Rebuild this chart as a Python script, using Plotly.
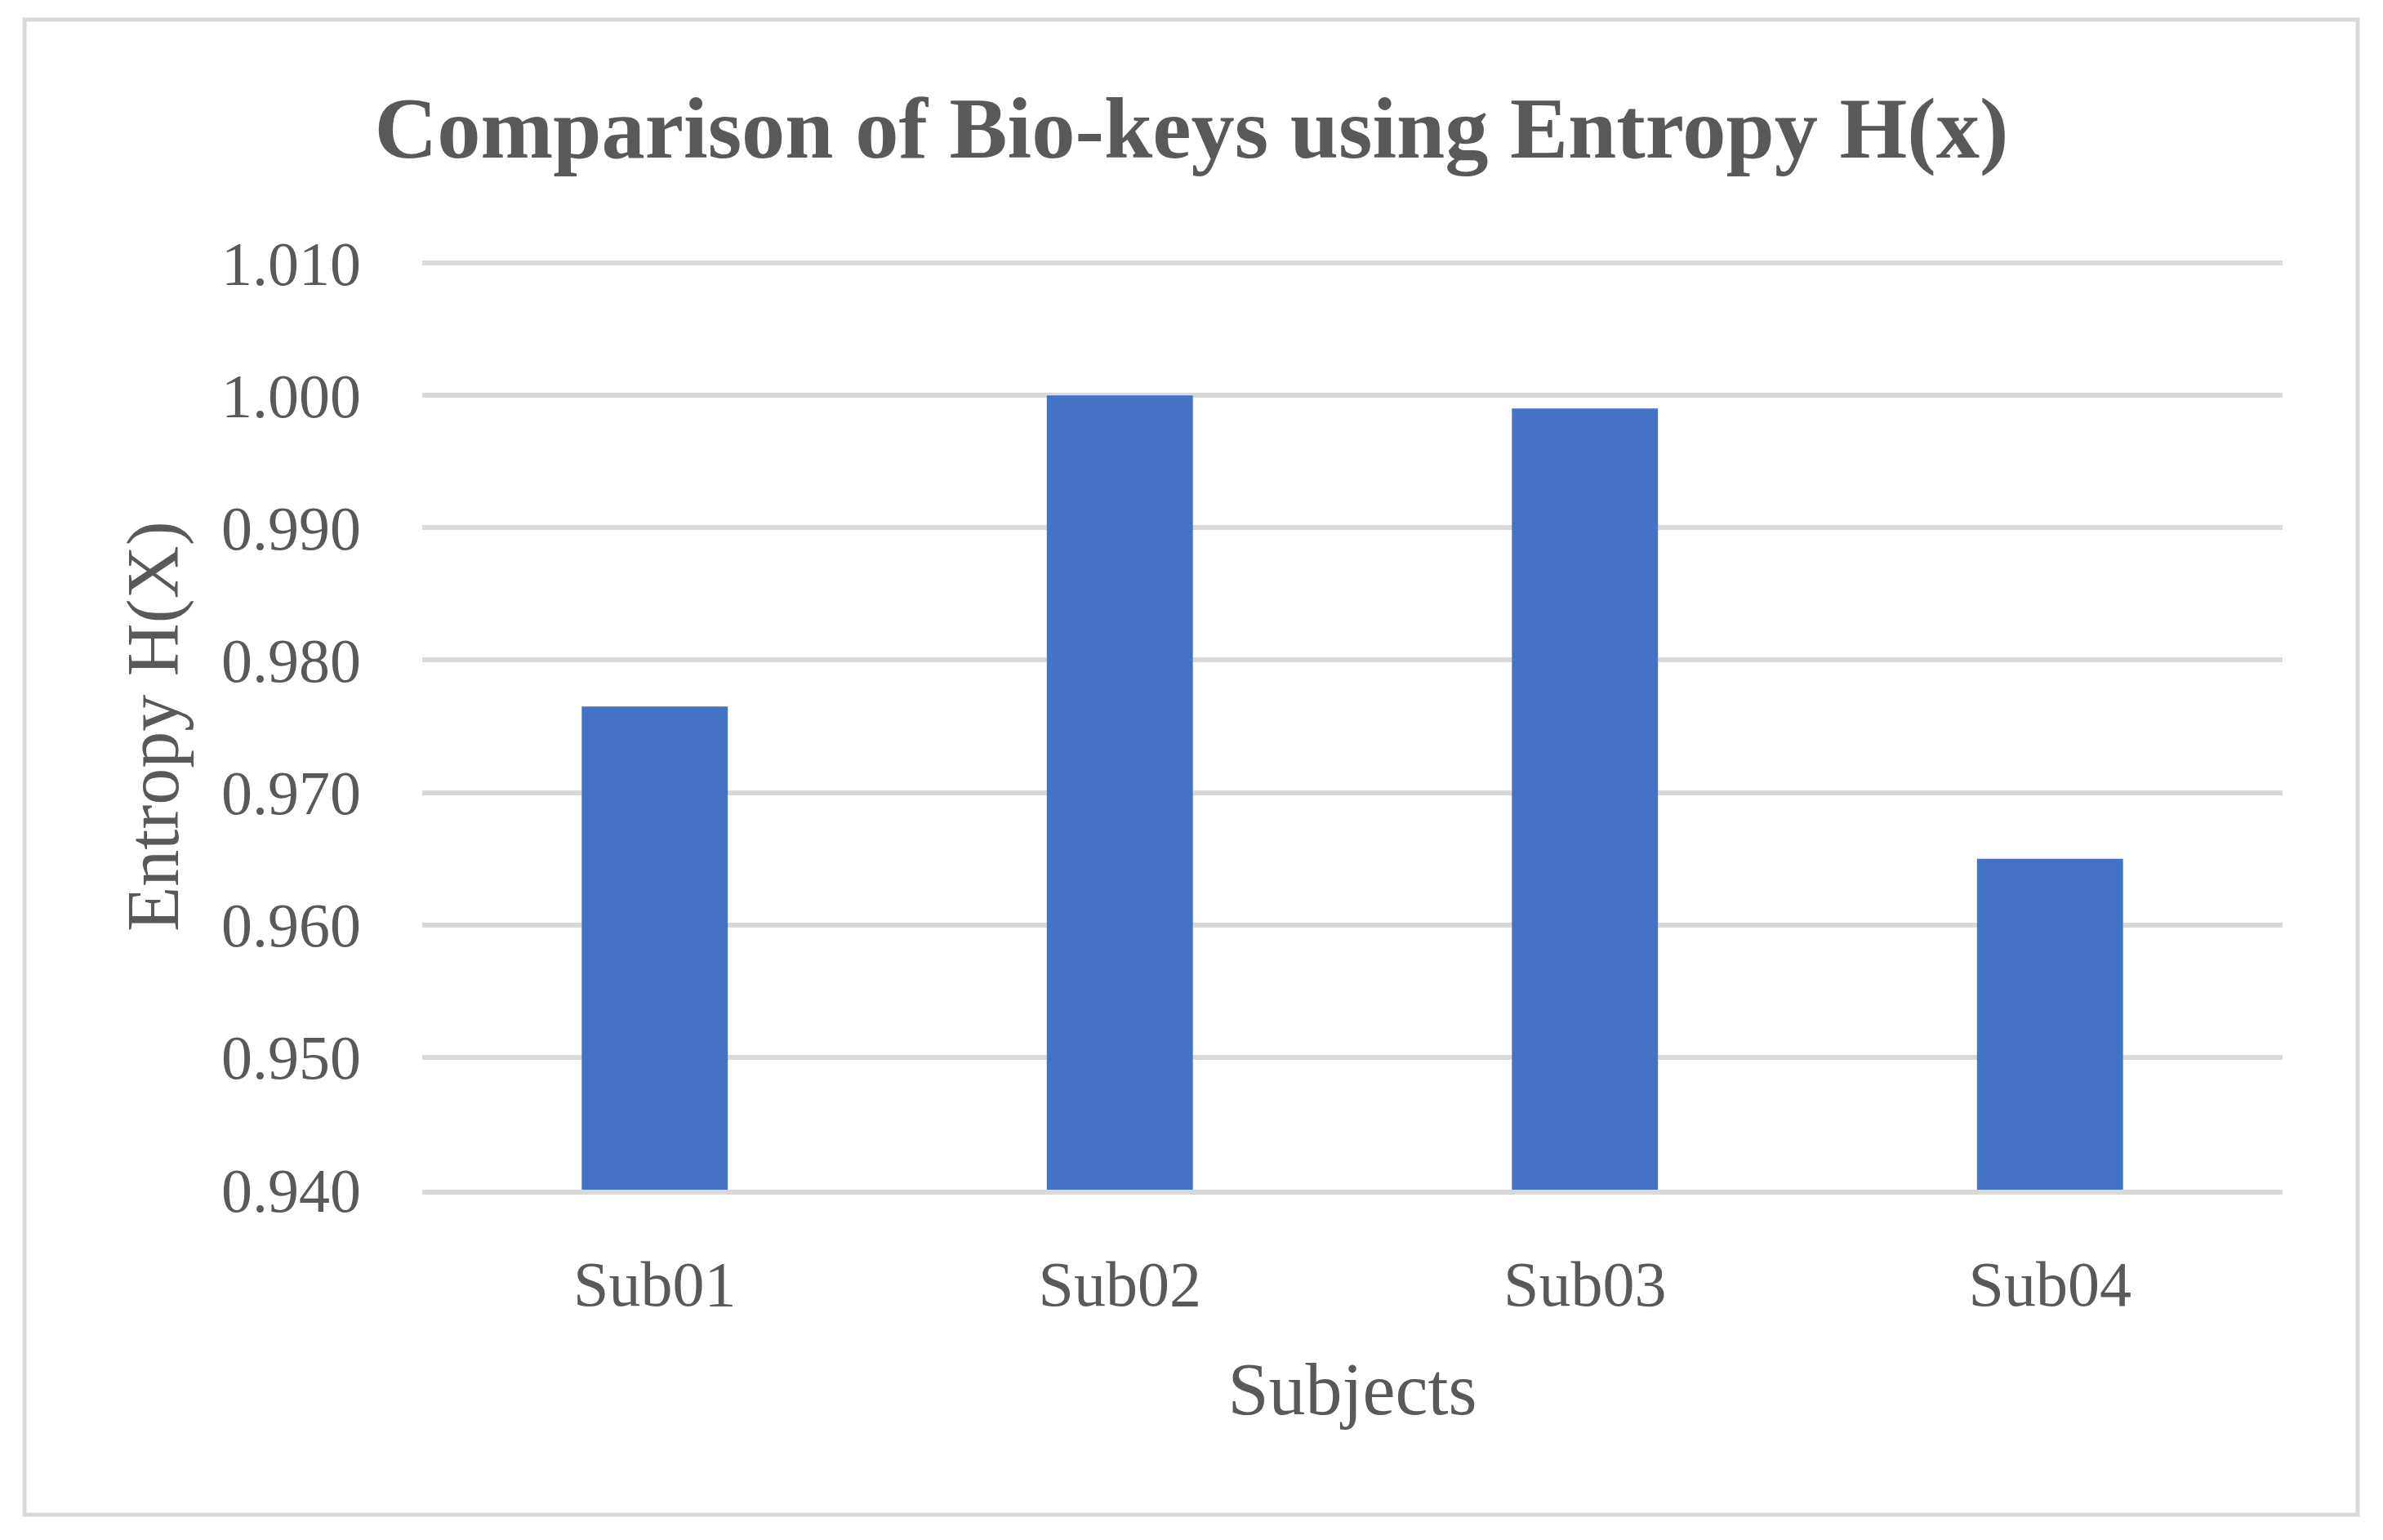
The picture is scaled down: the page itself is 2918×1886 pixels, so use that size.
import plotly.graph_objects as go

subjects = ["Sub01", "Sub02", "Sub03", "Sub04"]
entropy = [0.9765, 1.000, 0.999, 0.965]
y_ticks = [0.940, 0.950, 0.960, 0.970, 0.980, 0.990, 1.000, 1.010]
y_tick_labels = ["0.940", "0.950", "0.960", "0.970", "0.980", "0.990", "1.000", "1.010"]

TEXT = "#595959"
GRID = "#d9d9d9"
FONT = "Liberation Serif"

W, H = 2918, 1886
L, R, T, B = 517, 123, 322, 429
pw, ph = W - L - R, H - T - B

fig = go.Figure(go.Bar(x=subjects, y=entropy, marker=dict(color="#4472c4", line=dict(width=0))))

fig.update_layout(
    width=W, height=H,
    margin=dict(l=L, r=R, t=T, b=B, pad=0),
    paper_bgcolor="white", plot_bgcolor="white",
    bargap=0.686,
    showlegend=False,
    font=dict(family=FONT, color=TEXT),
    title=dict(text="<b>Comparison of Bio-keys using Entropy H(x)</b>",
               x=0.5, xanchor="center", y=1 - 156 / H, yanchor="middle",
               font=dict(family=FONT, size=106.5, color=TEXT)),
    xaxis=dict(
        showgrid=False, showline=True, linecolor=GRID, linewidth=6,
        ticks="", tickfont=dict(size=78, color=TEXT), ticklabelstandoff=42,
        title=dict(text="Subjects", font=dict(size=90, color=TEXT), standoff=56),
    ),
    yaxis=dict(
        range=[0.940, 1.010], tickvals=y_ticks, ticktext=y_tick_labels,
        showgrid=True, gridcolor=GRID, gridwidth=6, zeroline=False, showline=False,
        ticks="", tickfont=dict(size=76, color=TEXT), ticklabelstandoff=74,
        title=dict(text="Entropy H(X)", font=dict(size=90, color=TEXT), standoff=22),
    ),
)

# top gridline at the axis maximum (plotly does not draw a grid line on the plot edge)
fig.add_shape(type="line", xref="paper", yref="paper", x0=0, x1=1, y0=1, y1=1,
              line=dict(color=GRID, width=6), layer="below")

# outer chart border
fig.add_shape(type="rect", xref="paper", yref="paper",
              x0=(30 - L) / pw, x1=(2887 - L) / pw,
              y0=(H - B - 1855) / ph, y1=(H - B - 24) / ph,
              line=dict(color=GRID, width=5), fillcolor="rgba(0,0,0,0)", layer="below")

fig.write_html("out.html", config={"displayModeBar": False},
               post_script="document.body.style.margin='0';document.body.style.overflow='hidden';")
